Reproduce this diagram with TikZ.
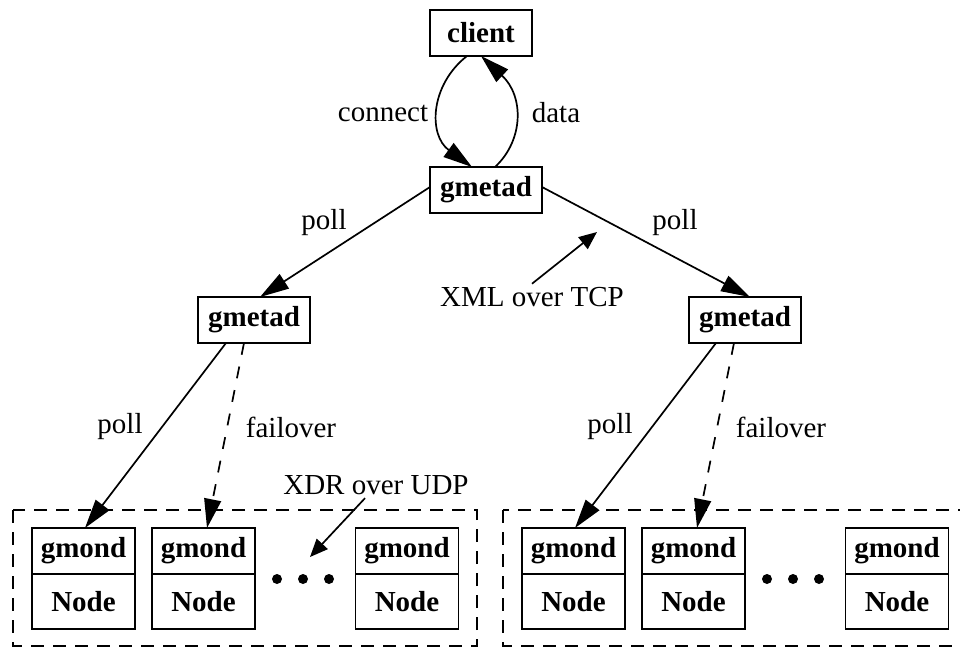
\documentclass[tikz,border=0pt]{standalone}
\usepackage{fontspec}
\setmainfont{Liberation Serif}
\usetikzlibrary{arrows.meta,calc}
\begin{document}
\begin{tikzpicture}[x=1pt,y=-1pt,
  every node/.style={font=\fontsize{29}{34}\selectfont},
  box/.style={draw, line width=1.7pt, inner sep=0pt, outer sep=0pt,
    font=\fontsize{29}{34}\selectfont\bfseries},
  gmetadbox/.style={box, minimum width=112pt, minimum height=46pt},
  gmondcell/.style={box, minimum width=103pt, minimum height=46pt},
  hostcell/.style={box, minimum width=103pt, minimum height=55pt, anchor=north},
  link/.style={line width=1.7pt, -{Triangle[length=29pt,width=17pt]}},
  note/.style={line width=1.7pt, -{Triangle[length=18pt,width=15pt]}},
  fail/.style={dash pattern=on 12pt off 12pt},
  cluster/.style={draw, line width=1.6pt, dash pattern=on 13pt off 9pt},
  dot/.style={circle, fill, inner sep=0pt, minimum size=10pt},
]
\useasboundingbox (0,0) rectangle (960,648);
\clip (0,0) rectangle (960,648);

% clusters of monitored hosts
\draw[cluster] (13,510) rectangle (477,646);
\draw[cluster] (503,510) rectangle (975,646);

% aggregation tree
\node[box, minimum width=102pt, minimum height=46pt] (client) at (481,33) {client};
\node[gmetadbox] (gm) at (486,190) {gmetad};
\node[gmetadbox] (gl) at (254,320) {gmetad};
\node[gmetadbox] (gr) at (745,320) {gmetad};

% gmond daemons, left cluster
\node[gmondcell] (a1) at (83.5,551) {gmond};
\node[hostcell] (a1n) at (a1.south) {Node};
\node[gmondcell] (a2) at (203.5,551) {gmond};
\node[hostcell] (a2n) at (a2.south) {Node};
\node[gmondcell] (a3) at (407,551) {gmond};
\node[hostcell] (a3n) at (a3.south) {Node};
\node[dot] (ad1) at (277,579) {};
\node[dot] (ad2) at (303,579) {};
\node[dot] (ad3) at (329,579) {};

% gmond daemons, right cluster
\node[gmondcell] (b1) at (573.5,551) {gmond};
\node[hostcell] (b1n) at (b1.south) {Node};
\node[gmondcell] (b2) at (693.5,551) {gmond};
\node[hostcell] (b2n) at (b2.south) {Node};
\node[gmondcell] (b3) at (897,551) {gmond};
\node[hostcell] (b3n) at (b3.south) {Node};
\node[dot] (bd1) at (767,579) {};
\node[dot] (bd2) at (793,579) {};
\node[dot] (bd3) at (819,579) {};

% client <-> gmetad
\draw[link] ($(client.south)+(-14,0)$) .. controls (430,85) and (428,135) .. ($(gm.north)+(-14,0)$);
\draw[link] ($(gm.north)+(9,0)$) .. controls (524,140) and (524,96) .. (client.south);

% polling edges
\draw[link] ($(gm.west)+(0,-3)$) -- ($(gl.north)+(6,0)$);
\draw[link] ($(gm.east)+(0,-3)$) -- ($(gr.north)+(5,0)$);
\draw[link] ($(gl.south)+(-28,0)$) -- ($(a1.north)+(1.5,0)$);
\draw[link,fail] ($(gl.south)+(-10,0)$) -- ($(a2.north)+(3.5,0)$);
\draw[link] ($(gr.south)+(-29,0)$) -- ($(b1.north)+(1.5,0)$);
\draw[link,fail] ($(gr.south)+(-11,0)$) -- ($(b2.north)+(3.5,0)$);

% edge labels
\node (lconnect) at (383,113) {connect};
\node (ldata) at (556,113) {data};
\node (lpoll1) at (324,223) {poll};
\node (lpoll2) at (675,223) {poll};
\node (lpoll3) at (120,427) {poll};
\node (lfail1) at (291,427) {failover};
\node (lpoll4) at (610,427) {poll};
\node (lfail2) at (781,427) {failover};

% protocol annotations
\node (xml) at (532,297) {XML over TCP};
\coordinate (xmlend) at (597,232);
\draw[note] (xml.north) -- (xmlend);
\node (xdr) at (376,485) {XDR over UDP};
\coordinate (xdrend) at (310,557);
\draw[note] ($(xdr.south)+(-11,0)$) -- (xdrend);
\end{tikzpicture}
\end{document}
